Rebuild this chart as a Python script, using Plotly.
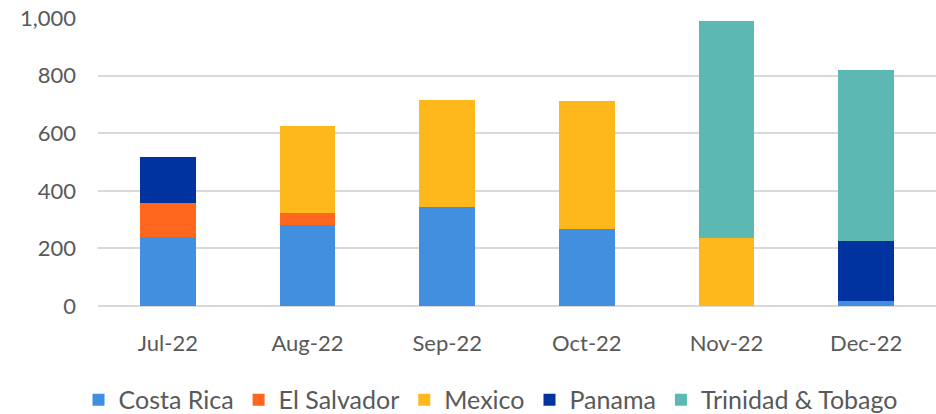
import plotly.graph_objects as go

months = ["Jul-22", "Aug-22", "Sep-22", "Oct-22", "Nov-22", "Dec-22"]
costa_rica = [240, 280, 345, 267, 0, 17]
el_salvador = [117, 43, 0, 0, 0, 0]
mexico = [0, 301, 370, 445, 236, 0]
panama = [160, 0, 0, 0, 0, 210]
trinidad = [0, 0, 0, 0, 754, 591]
tick_vals = [0, 200, 400, 600, 800, 1000]
tick_text = ["0", "200", "400", "600", "800", "1,000"]

series = [
    ("Costa Rica", costa_rica, "#418fde"),
    ("El Salvador", el_salvador, "#ff671f"),
    ("Mexico", mexico, "#ffb81c"),
    ("Panama", panama, "#0033a0"),
    ("Trinidad & Tobago", trinidad, "#5cb8b2"),
]

fig = go.Figure()
for name, vals, color in series:
    fig.add_trace(go.Bar(x=months, y=vals, name=name, marker_color=color,
                         marker_line_width=0))

font_fam = "Lato, 'Open Sans', sans-serif"
fig.update_layout(
    width=936, height=414,
    barmode="stack", bargap=0.6,
    paper_bgcolor="white", plot_bgcolor="white",
    margin=dict(l=98, r=0, t=18, b=108, autoexpand=False),
    font=dict(family=font_fam, size=22, color="#595959"),
    showlegend=True,
    legend=dict(orientation="h", x=0.469, xanchor="center", y=-0.326, yanchor="middle",
                font=dict(size=25, color="#595959"), traceorder="normal",
                itemwidth=30),
    xaxis=dict(showgrid=False, showline=False, ticks="", tickfont=dict(size=22),
               ticklabelstandoff=22),
    yaxis=dict(range=[0, 1000], tickvals=tick_vals, ticktext=tick_text,
               showgrid=True, gridcolor="#d9d9d9", gridwidth=1.5,
               zeroline=True, zerolinecolor="#d9d9d9", zerolinewidth=1.5,
               ticks="", ticklabelstandoff=21, tickfont=dict(size=22)),
)
fig.write_html("out.html", post_script="document.body.style.margin='0';",
               config={"displayModeBar": False})
